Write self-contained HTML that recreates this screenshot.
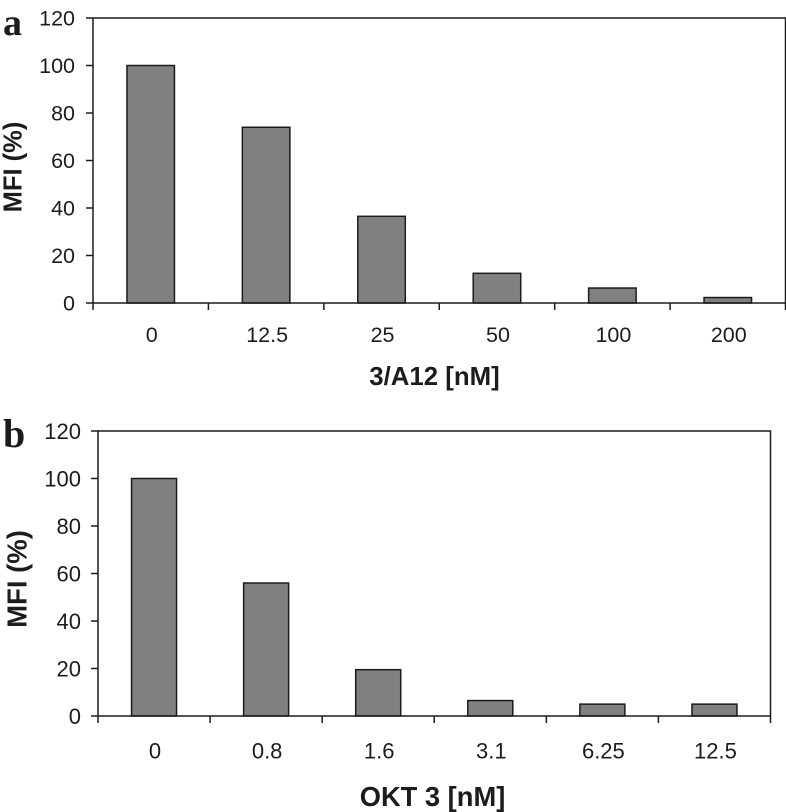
<!DOCTYPE html>
<html>
<head>
<meta charset="utf-8">
<style>
html,body{margin:0;padding:0;background:#fff;width:786px;height:812px;overflow:hidden}
svg{display:block}
text{font-family:"Liberation Sans",sans-serif;fill:#1c1c1c}
</style>
</head>
<body>
<svg id="fig" width="786" height="812" viewBox="0 0 786 812" xmlns="http://www.w3.org/2000/svg"></svg>
<script>
const categoriesA = ['0', '12.5', '25', '50', '100', '200'];
const valuesA = [100, 74, 36.5, 12.5, 6.3, 2.3];
const categoriesB = ['0', '0.8', '1.6', '3.1', '6.25', '12.5'];
const valuesB = [100, 56, 19.5, 6.5, 5, 5];
const yTicks = [0, 20, 40, 60, 80, 100, 120];
const yMax = 120;

const svg = document.getElementById('fig');
const NS = 'http://www.w3.org/2000/svg';
function make(tag, attrs, parent) {
  const el = document.createElementNS(NS, tag);
  for (const k in attrs) el.setAttribute(k, attrs[k]);
  parent.appendChild(el);
  return el;
}
function drawChart(cfg) {
  const g = make('g', {}, svg);
  
  
  const y = v => cfg.bottom - (v / yMax) * (cfg.bottom - cfg.top);
  const band = (cfg.right - cfg.left) / cfg.categories.length;
  const x = i => cfg.left + band * i;

  const letter = make('text', {x: cfg.letterX, y: cfg.letterY, 'font-size': cfg.letterSize, 'font-weight': 'bold'}, g);
  letter.style.fontFamily = '"Liberation Serif",serif';
  letter.textContent = cfg.letter;
  
  

  cfg.values.forEach((v, i) => {
    const bar = make('rect', {
      x: x(i) + (band - cfg.barWidth) / 2,
      y: y(v),
      width: cfg.barWidth,
      height: cfg.bottom - y(v),
      fill: '#808080', stroke: '#1c1c1c', 'stroke-width': 1.5
    }, g);
    
    
  });

  const frame = make('rect', {
    x: cfg.left, y: cfg.top, width: cfg.right - cfg.left, height: cfg.bottom - cfg.top,
    fill: 'none', stroke: '#1c1c1c', 'stroke-width': 1.5
  }, g);
  
  

  yTicks.forEach(t => {
    const tick = make('line', {x1: cfg.left - 7, x2: cfg.left, y1: y(t), y2: y(t), stroke: '#1c1c1c', 'stroke-width': 1.5}, g);
    
    
    const label = make('text', {x: cfg.yLabelX, y: y(t) + cfg.yLabelDy, 'font-size': cfg.tickSize, 'text-anchor': 'end'}, g);
    label.textContent = t;
    
    
  });

  for (let i = 0; i <= cfg.categories.length; i++) {
    const tick = make('line', {x1: x(i), x2: x(i), y1: cfg.bottom, y2: cfg.bottom + 7, stroke: '#1c1c1c', 'stroke-width': 1.5}, g);
    
    
  }
  cfg.categories.forEach((c, i) => {
    const label = make('text', {x: x(i) + band / 2 + 1, y: cfg.xLabelY, 'font-size': cfg.tickSize, 'text-anchor': 'middle'}, g);
    label.textContent = c;
    
    
  });

  const xTitle = make('text', {x: cfg.xTitleX, y: cfg.xTitleY, 'font-size': cfg.xTitleSize, 'font-weight': 'bold', 'text-anchor': 'middle'}, g);
  xTitle.textContent = cfg.xTitle;
  
  

  const yTitle = make('text', {x: 0, y: 0, 'font-size': cfg.yTitleSize, 'font-weight': 'bold', 'text-anchor': 'middle',
    transform: 'translate(' + cfg.yTitleX + ' ' + cfg.yTitleY + ') rotate(-90)'}, g);
  yTitle.textContent = 'MFI (%)';
  
  
}

drawChart({
  id: 'panel-a', letter: 'a', letterX: 3, letterY: 35, letterSize: 38,
  left: 93, right: 785.5, top: 18, bottom: 303, barWidth: 47.5,
  categories: categoriesA, values: valuesA,
  tickSize: 21.5, yLabelX: 75, yLabelDy: 7.5, xLabelY: 342,
  xTitle: '3/A12 [nM]', xTitleX: 434.5, xTitleY: 385, xTitleSize: 25.8,
  yTitleX: 21.5, yTitleY: 167, yTitleSize: 25.5
});
drawChart({
  id: 'panel-b', letter: 'b', letterX: 3, letterY: 447, letterSize: 40,
  left: 98, right: 770.5, top: 431, bottom: 716, barWidth: 45,
  categories: categoriesB, values: valuesB,
  tickSize: 22, yLabelX: 81, yLabelDy: 8, xLabelY: 758.5,
  xTitle: 'OKT 3 [nM]', xTitleX: 432.5, xTitleY: 806, xTitleSize: 27.3,
  yTitleX: 26.5, yTitleY: 579, yTitleSize: 27.5
});
</script>
</body>
</html>
